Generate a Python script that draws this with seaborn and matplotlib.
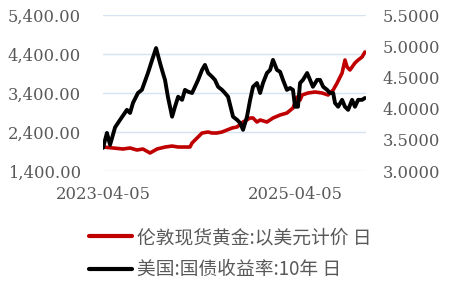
import matplotlib
matplotlib.use("Agg")
import matplotlib.pyplot as plt
import seaborn as sns
import pandas as pd

gold_dates = ["2023-04-05", "2023-05-13", "2023-06-20", "2023-07-17", "2023-08-12", "2023-09-04",
              "2023-10-01", "2023-10-28", "2023-11-27", "2023-12-24", "2024-01-16", "2024-02-11",
              "2024-03-01", "2024-03-09", "2024-03-28", "2024-04-16", "2024-05-09", "2024-05-24",
              "2024-06-12", "2024-07-01", "2024-07-20", "2024-08-08", "2024-08-27", "2024-09-19",
              "2024-10-16", "2024-10-27", "2024-11-11", "2024-11-23", "2024-12-19", "2025-01-11",
              "2025-02-07", "2025-03-05", "2025-03-28", "2025-04-13", "2025-04-24", "2025-05-02",
              "2025-05-24", "2025-06-20", "2025-07-17", "2025-08-09", "2025-08-28", "2025-09-12",
              "2025-10-01", "2025-10-12", "2025-10-20", "2025-10-31", "2025-11-19", "2025-12-01",
              "2025-12-16", "2025-12-27"]
gold_values = [2015, 1990, 1964, 1990, 1938, 1964,
               1862, 1964, 2015, 2040, 2015, 2015,
               2015, 2118, 2246, 2374, 2400, 2374,
               2374, 2400, 2451, 2502, 2528, 2656,
               2759, 2759, 2656, 2708, 2656, 2759,
               2836, 2887, 3015, 3297, 3220, 3349,
               3400, 3426, 3400, 3349, 3477, 3656,
               3913, 4246, 4067, 3990, 4170, 4246,
               4323, 4451]

yield_dates = ["2023-04-05", "2023-04-20", "2023-05-02", "2023-05-21", "2023-06-09", "2023-07-05",
               "2023-07-17", "2023-07-28", "2023-08-16", "2023-08-31", "2023-09-23", "2023-10-09",
               "2023-10-24", "2023-11-08", "2023-11-19", "2023-11-27", "2023-12-08", "2023-12-24",
               "2024-01-04", "2024-01-16", "2024-01-31", "2024-02-11", "2024-02-23", "2024-03-09",
               "2024-03-20", "2024-04-01", "2024-04-16", "2024-04-27", "2024-05-09", "2024-05-24",
               "2024-06-04", "2024-06-16", "2024-07-01", "2024-07-12", "2024-07-24", "2024-08-12",
               "2024-08-27", "2024-09-08", "2024-09-19", "2024-10-04", "2024-10-16", "2024-10-27",
               "2024-11-11", "2024-11-23", "2024-12-04", "2024-12-19", "2024-12-31", "2025-01-11",
               "2025-01-26", "2025-02-07", "2025-02-18", "2025-03-05", "2025-03-17", "2025-03-28",
               "2025-04-05", "2025-04-16", "2025-04-24", "2025-05-05", "2025-05-21", "2025-06-01",
               "2025-06-12", "2025-06-28", "2025-07-09", "2025-07-21", "2025-08-05", "2025-08-16",
               "2025-08-28", "2025-09-04", "2025-09-16", "2025-10-01", "2025-10-12", "2025-10-24",
               "2025-11-08", "2025-11-19", "2025-12-01", "2025-12-16", "2025-12-27"]
yield_values = [3.37, 3.61, 3.42, 3.70, 3.82, 3.98,
                3.93, 4.09, 4.25, 4.30, 4.57, 4.78,
                4.97, 4.73, 4.57, 4.46, 4.19, 3.87,
                4.03, 4.19, 4.14, 4.30, 4.27, 4.25,
                4.35, 4.46, 4.62, 4.70, 4.57, 4.51,
                4.46, 4.35, 4.30, 4.25, 4.19, 3.87,
                3.82, 3.77, 3.66, 3.87, 4.14, 4.35,
                4.41, 4.25, 4.41, 4.57, 4.62, 4.78,
                4.62, 4.59, 4.46, 4.30, 4.33, 4.30,
                4.03, 4.03, 4.41, 4.46, 4.57, 4.46,
                4.35, 4.46, 4.46, 4.35, 4.30, 4.25,
                4.25, 4.09, 4.03, 4.14, 4.03, 3.98,
                4.14, 4.03, 4.14, 4.14, 4.17]

left_ticks = [1400, 2400, 3400, 4400, 5400]
right_ticks = [3.0, 3.5, 4.0, 4.5, 5.0, 5.5]
x_ticks = ["2023-04-05", "2025-04-05"]
label_gold = "伦敦现货黄金:以美元计价 日"
label_yield = "美国:国债收益率:10年 日"

gold_df = pd.DataFrame({"date": pd.to_datetime(gold_dates), "value": gold_values})
yield_df = pd.DataFrame({"date": pd.to_datetime(yield_dates), "value": yield_values})

sns.set_style("white")
plt.rcParams["font.family"] = ["DejaVu Serif"]

W, H = 449, 287
fig = plt.figure(figsize=(W / 100, H / 100), dpi=100)
ax = fig.add_axes([103 / W, 1 - 171 / H, (366 - 103) / W, (171 - 15) / H])
ax2 = ax.twinx()

text_col = "#595959"
grid_col = "#d6e3f3"

sns.lineplot(data=gold_df, x="date", y="value", ax=ax, color="#c00000", lw=2.6, label=label_gold, legend=False)
sns.lineplot(data=yield_df, x="date", y="value", ax=ax2, color="#000000", lw=2.8, label=label_yield, legend=False)

ax.set_ylim(1400, 5400)
ax.set_yticks(left_ticks)
ax.set_yticklabels([f"{v:,.2f}" for v in left_ticks])
ax2.set_ylim(3.0, 5.5)
ax2.set_yticks(right_ticks)
ax2.set_yticklabels([f"{v:.4f}" for v in right_ticks])
ax.set_xlim(pd.Timestamp("2023-04-05"), pd.Timestamp("2025-12-31"))
ax.set_xticks(pd.to_datetime(x_ticks))
ax.set_xticklabels(x_ticks)

for a in (ax, ax2):
    for s in a.spines.values():
        s.set_visible(False)
    a.set_xlabel("")
    a.set_ylabel("")
    a.tick_params(length=0, labelsize=11.8, colors=text_col)
ax.tick_params(axis="y", pad=16)
ax.tick_params(axis="x", pad=11)
ax2.tick_params(axis="y", pad=12)
ax.yaxis.grid(True, color=grid_col, lw=1)
ax.xaxis.grid(False)
ax2.grid(False)

h1, l1 = ax.get_legend_handles_labels()
h2, l2 = ax2.get_legend_handles_labels()
leg = fig.legend(h1 + h2, l1 + l2, loc="upper left", bbox_to_anchor=(89 / W, 1 - 227 / H),
                 frameon=False, ncol=1, handlelength=2.3, handletextpad=0.28, labelspacing=0.6,
                 prop={"family": ["Noto Sans CJK SC", "DejaVu Sans"], "size": 13.5},
                 borderaxespad=0, borderpad=0)
for t in leg.get_texts():
    t.set_color(text_col)
for line in leg.get_lines():
    line.set_linewidth(3)

fig.savefig("out.png", dpi=100)
